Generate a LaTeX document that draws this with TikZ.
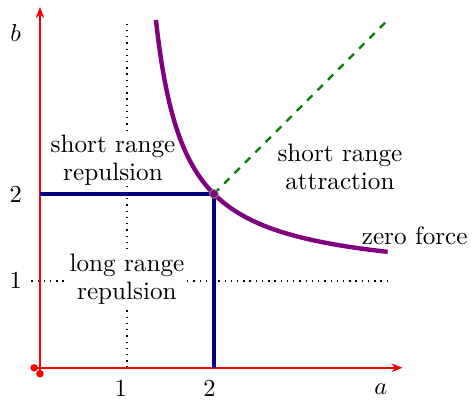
\documentclass[tikz,border=0pt]{standalone}
\usetikzlibrary{arrows.meta}
\definecolor{zfpurple}{RGB}{128,0,128}
\tikzset{
  axis/.style = {red, line width=0.8pt, {Circle[length=3pt]}-{Stealth[length=4.5pt, width=3.5pt]}},
  guide/.style = {dotted, line width=0.55pt},
  border/.style = {blue!50!black, line width=1.5pt},
  zeroforce/.style = {zfpurple, line width=1.8pt},
  diag/.style = {green!50!black, dashed, line width=0.9pt},
  region/.style = {fill=white, align=center, inner sep=0.5pt, font=\fontsize{10.3}{11.5}\selectfont}
}

\begin{document}
\begin{tikzpicture}[x=1.25cm, y=1.25cm]
\useasboundingbox (-0.46,-0.38) rectangle (4.98,4.23);

% dotted guide lines
\draw[guide] (1,0) -- (1,4);
\draw[guide] (-0.1,1) -- (4,1);

% axes
\draw[axis] (-0.11,0) -- (4.17,0);
\draw[axis] (0,-0.11) -- (0,4.15);
\node (alab) at (3.92,-0.25) {$a$};
\node (blab) at (-0.28,3.85) {$b$};

% ticks
\node (x1) at (0.93,-0.24) {1};
\node (x2) at (1.95,-0.24) {2};
\node (y1) at (-0.28,1) {1};
\node (y2) at (-0.28,2) {2};

% region labels
\node[region] (srep) at (0.84,2.39) {short range\\repulsion};
\node[region] (lrep) at (1.0,1.02) {long range\\repulsion};
\node[region] (satt) at (3.45,2.31) {short range\\attraction};

% boundaries
\coordinate (p) at (2,2);
\draw[border] (0,2) -- (p) -- (2,0);
\draw[diag] (p) -- (4,4);
\draw[zeroforce] plot[domain=1.3333:4, samples=120, smooth] (\x,{\x/(\x-1)});
\node[font=\fontsize{10.3}{11.5}\selectfont] (zf) at (4.31,1.52) {zero force};
\filldraw[fill=zfpurple, draw=gray, line width=0.4pt] (p) circle (0.05);
\end{tikzpicture}
\end{document}
